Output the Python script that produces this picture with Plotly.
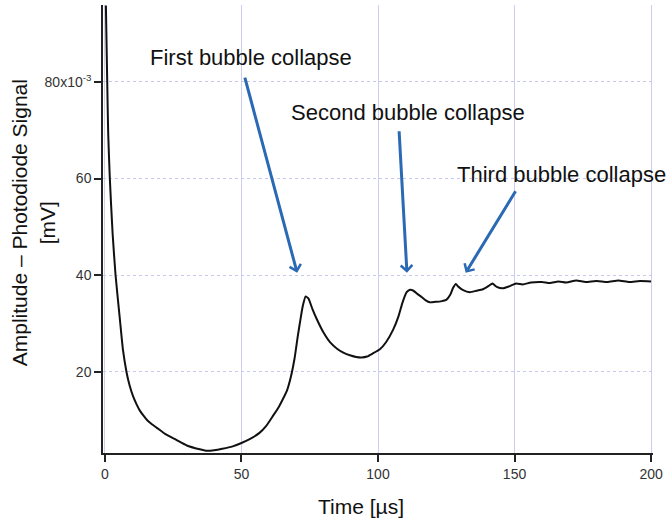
import plotly.graph_objects as go

# ---- data ----
time_us = [0.36, 0.85, 1.2, 1.8, 2.8, 3.9, 5.5, 6.6, 7.9, 9.0, 10.3, 11.6, 12.8, 14.2,
           15.5, 17.2, 18.9, 22, 26, 30,
           34.7, 37, 40, 43, 46.8, 50, 53, 56.6, 59, 61.4, 63.5, 65, 66.7, 68.1, 69.5,
           70.6, 71.5, 72.4, 73.5, 74.5, 76, 77.6, 80, 82.5, 85, 87.3, 90, 92, 94, 96,
           98, 100.7, 103, 105.6, 107.5, 109, 110.5, 111.7, 113, 114.5, 116, 117.5, 119,
           121, 123, 125, 126.5, 127.5, 128.5, 129.5, 131, 133.6, 136, 138.4, 140.5,
           141.9, 143.5, 145.7, 148, 150.6, 153, 156, 160, 163, 166, 169, 172.6, 176,
           180, 184, 188, 192, 196, 200]
amplitude_mv = [95.8, 80, 69.4, 60, 48.8, 40, 30.8, 24.6, 20, 17.3, 15, 13.3, 12, 10.9,
                10, 9.2, 8.5, 7.2, 6, 4.8,
                4, 3.7, 3.8, 4.1, 4.6, 5.3, 6.1, 7.4, 8.8, 10.8, 12.6, 14.2, 16.2, 19, 23,
                27.3, 30.5, 33.5, 35.6, 35.2, 33, 30.9, 28.2, 26.1, 24.8, 24, 23.4, 23.1, 23, 23.2,
                23.8, 24.7, 26.2, 28.8, 31.5, 34.4, 36.5, 37, 36.8, 36.1, 35.5, 34.8, 34.4,
                34.5, 34.6, 34.9, 36, 37.4, 38.2, 37.6, 37, 36.5, 36.8, 37.1, 37.8,
                38.3, 37.6, 37.3, 37.7, 38.3, 38.1, 38.5, 38.6, 38.4, 38.7, 38.5, 38.9, 38.6,
                38.8, 38.6, 38.9, 38.6, 38.8, 38.7]

x_ticks = [0, 50, 100, 150, 200]
y_ticks = [20, 40, 60, 80]
y_ticktext = ["20", "40", "60", "80x10<sup>-3</sup>"]

labels = ["First bubble collapse", "Second bubble collapse", "Third bubble collapse"]
label_x = [53.6, 111.1, 167.2]
label_y = [85.0, 73.6, 60.8]
arrow_tail_x = [51.1, 107.7, 150.7]
arrow_tail_y = [81.2, 70.1, 57.7]
arrow_head_x = [70.4, 110.6, 132.1]
arrow_head_y = [40.5, 40.5, 40.5]

FONT = "Liberation Sans, Arial, sans-serif"
ARROW = "#2a69b3"

fig = go.Figure()
fig.add_trace(go.Scatter(x=time_us, y=amplitude_mv, mode="lines",
                         line=dict(color="#111111", width=2, shape="spline", smoothing=0.5),
                         showlegend=False, hoverinfo="skip"))

annotations = []
for txt, tx, ty in zip(labels, label_x, label_y):
    annotations.append(dict(x=tx, y=ty, xref="x", yref="y", text=txt, showarrow=False,
                            font=dict(family=FONT, size=22, color="#111111"),
                            xanchor="center", yanchor="middle"))
for hx, hy, sx, sy in zip(arrow_head_x, arrow_head_y, arrow_tail_x, arrow_tail_y):
    annotations.append(dict(x=hx, y=hy, xref="x", yref="y", ax=sx, ay=sy,
                            axref="x", ayref="y", text="", showarrow=True,
                            arrowhead=4, arrowsize=0.75, arrowwidth=3, arrowcolor=ARROW))
annotations.append(dict(x=(362 - 103) / 552, y=(453 - 507) / 448, xref="paper", yref="paper",
                        text="Time [µs]", showarrow=False, xanchor="center", yanchor="middle",
                        font=dict(family=FONT, size=21, color="#111111")))
annotations.append(dict(x=(33 - 103) / 552, y=(453 - 223) / 448, xref="paper", yref="paper",
                        text="Amplitude – Photodiode Signal<br>[mV]", textangle=-90,
                        showarrow=False, xanchor="center", yanchor="middle",
                        font=dict(family=FONT, size=21, color="#111111")))

fig.update_layout(
    width=668, height=523,
    margin=dict(l=103, r=13, t=5, b=70),
    paper_bgcolor="white", plot_bgcolor="white",
    annotations=annotations,
    xaxis=dict(range=[-0.7, 200.7], tickvals=x_ticks, ticks="outside", ticklen=7,
               tickcolor="#222", tickwidth=1.5,
               showline=True, linecolor="#222", linewidth=1.5,
               showgrid=True, gridcolor="#cdcdf0", gridwidth=1, zeroline=False,
               tickfont=dict(family=FONT, size=14, color="#333")),
    yaxis=dict(range=[3.24, 95.9], tickvals=y_ticks, ticktext=y_ticktext, ticks="outside",
               ticklen=7, tickcolor="#222", tickwidth=1.5,
               showline=True, linecolor="#222", linewidth=1.5,
               showgrid=True, gridcolor="#c8c8ee", gridwidth=1.2, griddash="dot",
               zeroline=False, tickfont=dict(family=FONT, size=14, color="#333")),
)

fig.write_html("out.html")
